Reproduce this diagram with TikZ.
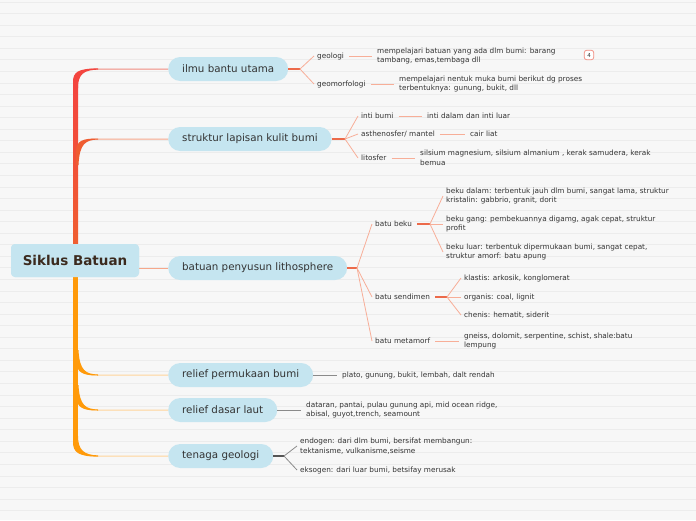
\documentclass[tikz,border=0pt]{standalone}
\usepackage{fontspec}
\setmainfont{DejaVu Sans}
\definecolor{bg}{HTML}{F7F7F7}
\definecolor{rulec}{HTML}{ECECEC}
\definecolor{nodefill}{HTML}{C5E5F0}
\definecolor{rootText}{HTML}{3B2A1E}
\definecolor{txt}{HTML}{333333}
\definecolor{redA}{HTML}{F3453F}
\definecolor{redB}{HTML}{EF5F30}
\definecolor{orangeS}{HTML}{FF9A0A}
\definecolor{brRed}{HTML}{F08A7E}
\definecolor{brSalmon}{HTML}{F6A78A}
\definecolor{brOrange}{HTML}{FFD49A}
\definecolor{subLine}{HTML}{F7AE98}
\definecolor{forkRed}{HTML}{EC6A4A}
\definecolor{grayLine}{HTML}{8A8A8A}
\definecolor{darkLine}{HTML}{555555}
\tikzset{
  mainnode/.style={fill=nodefill, rounded corners=12pt, minimum height=24pt, inner xsep=14pt, inner ysep=0pt, anchor=west, font=\fontsize{10.3}{12}\selectfont, text=txt},
  rootnode/.style={fill=nodefill, rounded corners=4pt, minimum height=33pt, minimum width=128pt, inner sep=0pt, font=\bfseries\fontsize{13.5}{15}\selectfont, text=rootText},
  lbl/.style={anchor=west, inner xsep=3pt, inner ysep=1pt, font=\fontsize{7.3}{9.8}\selectfont, text=txt, align=left},
  forkline/.style={forkRed, line width=1.2pt},
  subline/.style={subLine, line width=0.8pt},
  grayline/.style={grayLine, line width=1pt},
  badge/.style={draw=brRed, fill=white, rounded corners=2.5pt, line width=0.7pt, minimum size=9.5pt, inner sep=0pt, font=\fontsize{5.5}{5.5}\selectfont, text=txt},
}
\begin{document}
\begin{tikzpicture}[x=1pt,y=-1pt]
\useasboundingbox (0,0) rectangle (696,520);
\fill[bg] (0,0) rectangle (696,520);
\foreach \k in {0,...,44} \draw[rulec, line width=0.6pt] (0,{2+11.556*\k}) -- (696,{2+11.556*\k});

% main nodes
\node[rootnode] (root) at (75,260.5) {Siklus Batuan};
\node[mainnode] (ilmu) at (168,69) {ilmu bantu utama};
\node[mainnode] (struk) at (168,139) {struktur lapisan kulit bumi};
\node[mainnode] (batuan) at (168,268) {batuan penyusun lithosphere};
\node[mainnode] (relp) at (168,375) {relief permukaan bumi};
\node[mainnode] (reld) at (168,410) {relief dasar laut};
\node[mainnode] (tenaga) at (168,456) {tenaga geologi};

% spine coordinates
\coordinate (s1) at (75.5,95);
\coordinate (s2) at (77,165);
\coordinate (s4) at (77,350);
\coordinate (s5) at (77,385);
\coordinate (s6) at (75.5,430);

% thin branch connectors
\draw[brRed, line width=1pt] (s1) .. controls (75.5,72) and (80,69) .. (98,69) -- (ilmu.west);
\draw[brSalmon, line width=1pt] (s2) .. controls (77,142) and (81,139) .. (98,139) -- (struk.west);
\draw[brSalmon, line width=1pt] (root.east |- batuan.west) -- (batuan.west);
\draw[brOrange, line width=1pt] (s4) .. controls (77,372) and (81,375) .. (98,375) -- (relp.west);
\draw[brOrange, line width=1pt] (s5) .. controls (77,407) and (81,410) .. (98,410) -- (reld.west);
\draw[brOrange, line width=1pt] (s6) .. controls (75.5,452) and (80,456) .. (98,456) -- (tenaga.west);

% spine thick parts
\shade[top color=redA, bottom color=redB] (73,84) rectangle (78,250);
\fill[redA] (73,88) -- (73,82) .. controls (73,72) and (78,68.5) .. (98,68.4) -- (98,69.6) .. controls (84,70) and (78,74) .. (78,88) -- cycle;
\fill[redB!90!redA] (76,165) -- (76,150) .. controls (77,141) and (82,138.4) .. (98,138.5) -- (98,139.5) .. controls (86,140) and (79.5,143) .. (78.5,165) -- cycle;
\fill[orangeS] (73,270) rectangle (78,440);
\fill[orangeS] (76,350) -- (76,362) .. controls (77,372) and (82,375.6) .. (98,375.5) -- (98,374.5) .. controls (86,374) and (79.5,371) .. (78.5,350) -- cycle;
\fill[orangeS] (76,385) -- (76,397) .. controls (77,407) and (82,410.6) .. (98,410.5) -- (98,409.5) .. controls (86,409) and (79.5,406) .. (78.5,385) -- cycle;
\fill[orangeS] (73,436) -- (73,442) .. controls (73,452) and (78,456.6) .. (98,456.6) -- (98,455.4) .. controls (84,455) and (78,450) .. (78,436) -- cycle;

% root redrawn on top of spine
\node[rootnode] at (root) {Siklus Batuan};

% ---- ilmu bantu utama
\coordinate (f1) at (300,69);
\node[lbl] (geo) at (314,56) {geologi};
\node[lbl] (geom) at (314,84) {geomorfologi};
\node[lbl] (geod) at (374,56) {mempelajari batuan yang ada dlm bumi: barang\\tambang, emas,tembaga dll};
\node[lbl] (geomd) at (396,84) {mempelajari nentuk muka bumi berikut dg proses\\terbentuknya: gunung, bukit, dll};
\node[badge] (b4) at (589,55) {4};
\draw[forkline] (ilmu.east) -- (f1);
\draw[subline] (f1) -- (geo.west);
\draw[subline] (f1) -- (geom.west);
\draw[subline] ([xshift=2pt]geo.east) -- ([xshift=-2pt]geod.west);
\draw[subline] ([xshift=2pt]geom.east) -- ([xshift=-2pt]geomd.west);

% ---- struktur lapisan kulit bumi
\coordinate (f2) at (345,139);
\node[lbl] (inti) at (358,116) {inti bumi};
\node[lbl] (asth) at (358,134) {asthenosfer/ mantel};
\node[lbl] (lito) at (358,158) {litosfer};
\node[lbl] (intid) at (424,116) {inti dalam dan inti luar};
\node[lbl] (asthd) at (467,134) {cair liat};
\node[lbl] (litod) at (417,158) {silsium magnesium, silsium almanium , kerak samudera, kerak\\bemua};
\draw[forkline] (struk.east) -- (f2);
\draw[subline] (f2) -- (inti.west);
\draw[subline] (f2) -- (asth.west);
\draw[subline] (f2) -- (lito.west);
\draw[subline] ([xshift=2pt]inti.east) -- ([xshift=-2pt]intid.west);
\draw[subline] ([xshift=2pt]asth.east) -- ([xshift=-2pt]asthd.west);
\draw[subline] ([xshift=2pt]lito.east) -- ([xshift=-2pt]litod.west);

% ---- batuan penyusun lithosphere
\coordinate (f3) at (357,268);
\node[lbl] (beku) at (372,224) {batu beku};
\node[lbl] (send) at (372,297) {batu sendimen};
\node[lbl] (meta) at (372,341) {batu metamorf};
\draw[forkline] (batuan.east) -- (f3);
\draw[subline] (f3) -- (beku.west);
\draw[subline] (f3) -- (send.west);
\draw[subline] (f3) -- (meta.west);

\coordinate (f4) at (430,224);
\node[lbl] (bd) at (443,196) {beku dalam: terbentuk jauh dlm bumi, sangat lama, struktur\\kristalin: gabbrio, granit, dorit};
\node[lbl] (bg) at (443,224) {beku gang: pembekuannya digamg, agak cepat, struktur\\profit};
\node[lbl] (bl) at (443,252) {beku luar: terbentuk dipermukaan bumi, sangat cepat,\\struktur amorf: batu apung};
\draw[forkline] ([xshift=2pt]beku.east) -- (f4);
\draw[subline] (f4) -- (bd.west);
\draw[subline] (f4) -- (bg.west);
\draw[subline] (f4) -- (bl.west);

\coordinate (f5) at (447,297);
\node[lbl] (kl) at (461,278) {klastis: arkosik, konglomerat};
\node[lbl] (org) at (461,297) {organis: coal, lignit};
\node[lbl] (che) at (461,315) {chenis: hematit, siderit};
\draw[forkline] ([xshift=2pt]send.east) -- (f5);
\draw[subline] (f5) -- (kl.west);
\draw[subline] (f5) -- (org.west);
\draw[subline] (f5) -- (che.west);

\node[lbl] (metad) at (461,341) {gneiss, dolomit, serpentine, schist, shale:batu\\lempung};
\draw[subline] ([xshift=2pt]meta.east) -- ([xshift=-2pt]metad.west);

% ---- relief permukaan bumi
\node[lbl] (relpd) at (339,375) {plato, gunung, bukit, lembah, dalt rendah};
\draw[grayline] (relp.east) -- ([xshift=-2pt]relpd.west);

% ---- relief dasar laut
\node[lbl] (reldd) at (303,410) {dataran, pantai, pulau gunung api, mid ocean ridge,\\abisal, guyot,trench, seamount};
\draw[grayline] (reld.east) -- ([xshift=-2pt]reldd.west);

% ---- tenaga geologi
\coordinate (f6) at (284,456);
\node[lbl] (endo) at (297,446) {endogen: dari dlm bumi, bersifat membangun:\\tektanisme, vulkanisme,seisme};
\node[lbl] (ekso) at (297,470) {eksogen: dari luar bumi, betsifay merusak};
\draw[darkLine, line width=1.2pt] (tenaga.east) -- (f6);
\draw[grayLine, line width=0.8pt] (f6) -- (endo.west);
\draw[grayLine, line width=0.8pt] (f6) -- (ekso.west);
\end{tikzpicture}
\end{document}
